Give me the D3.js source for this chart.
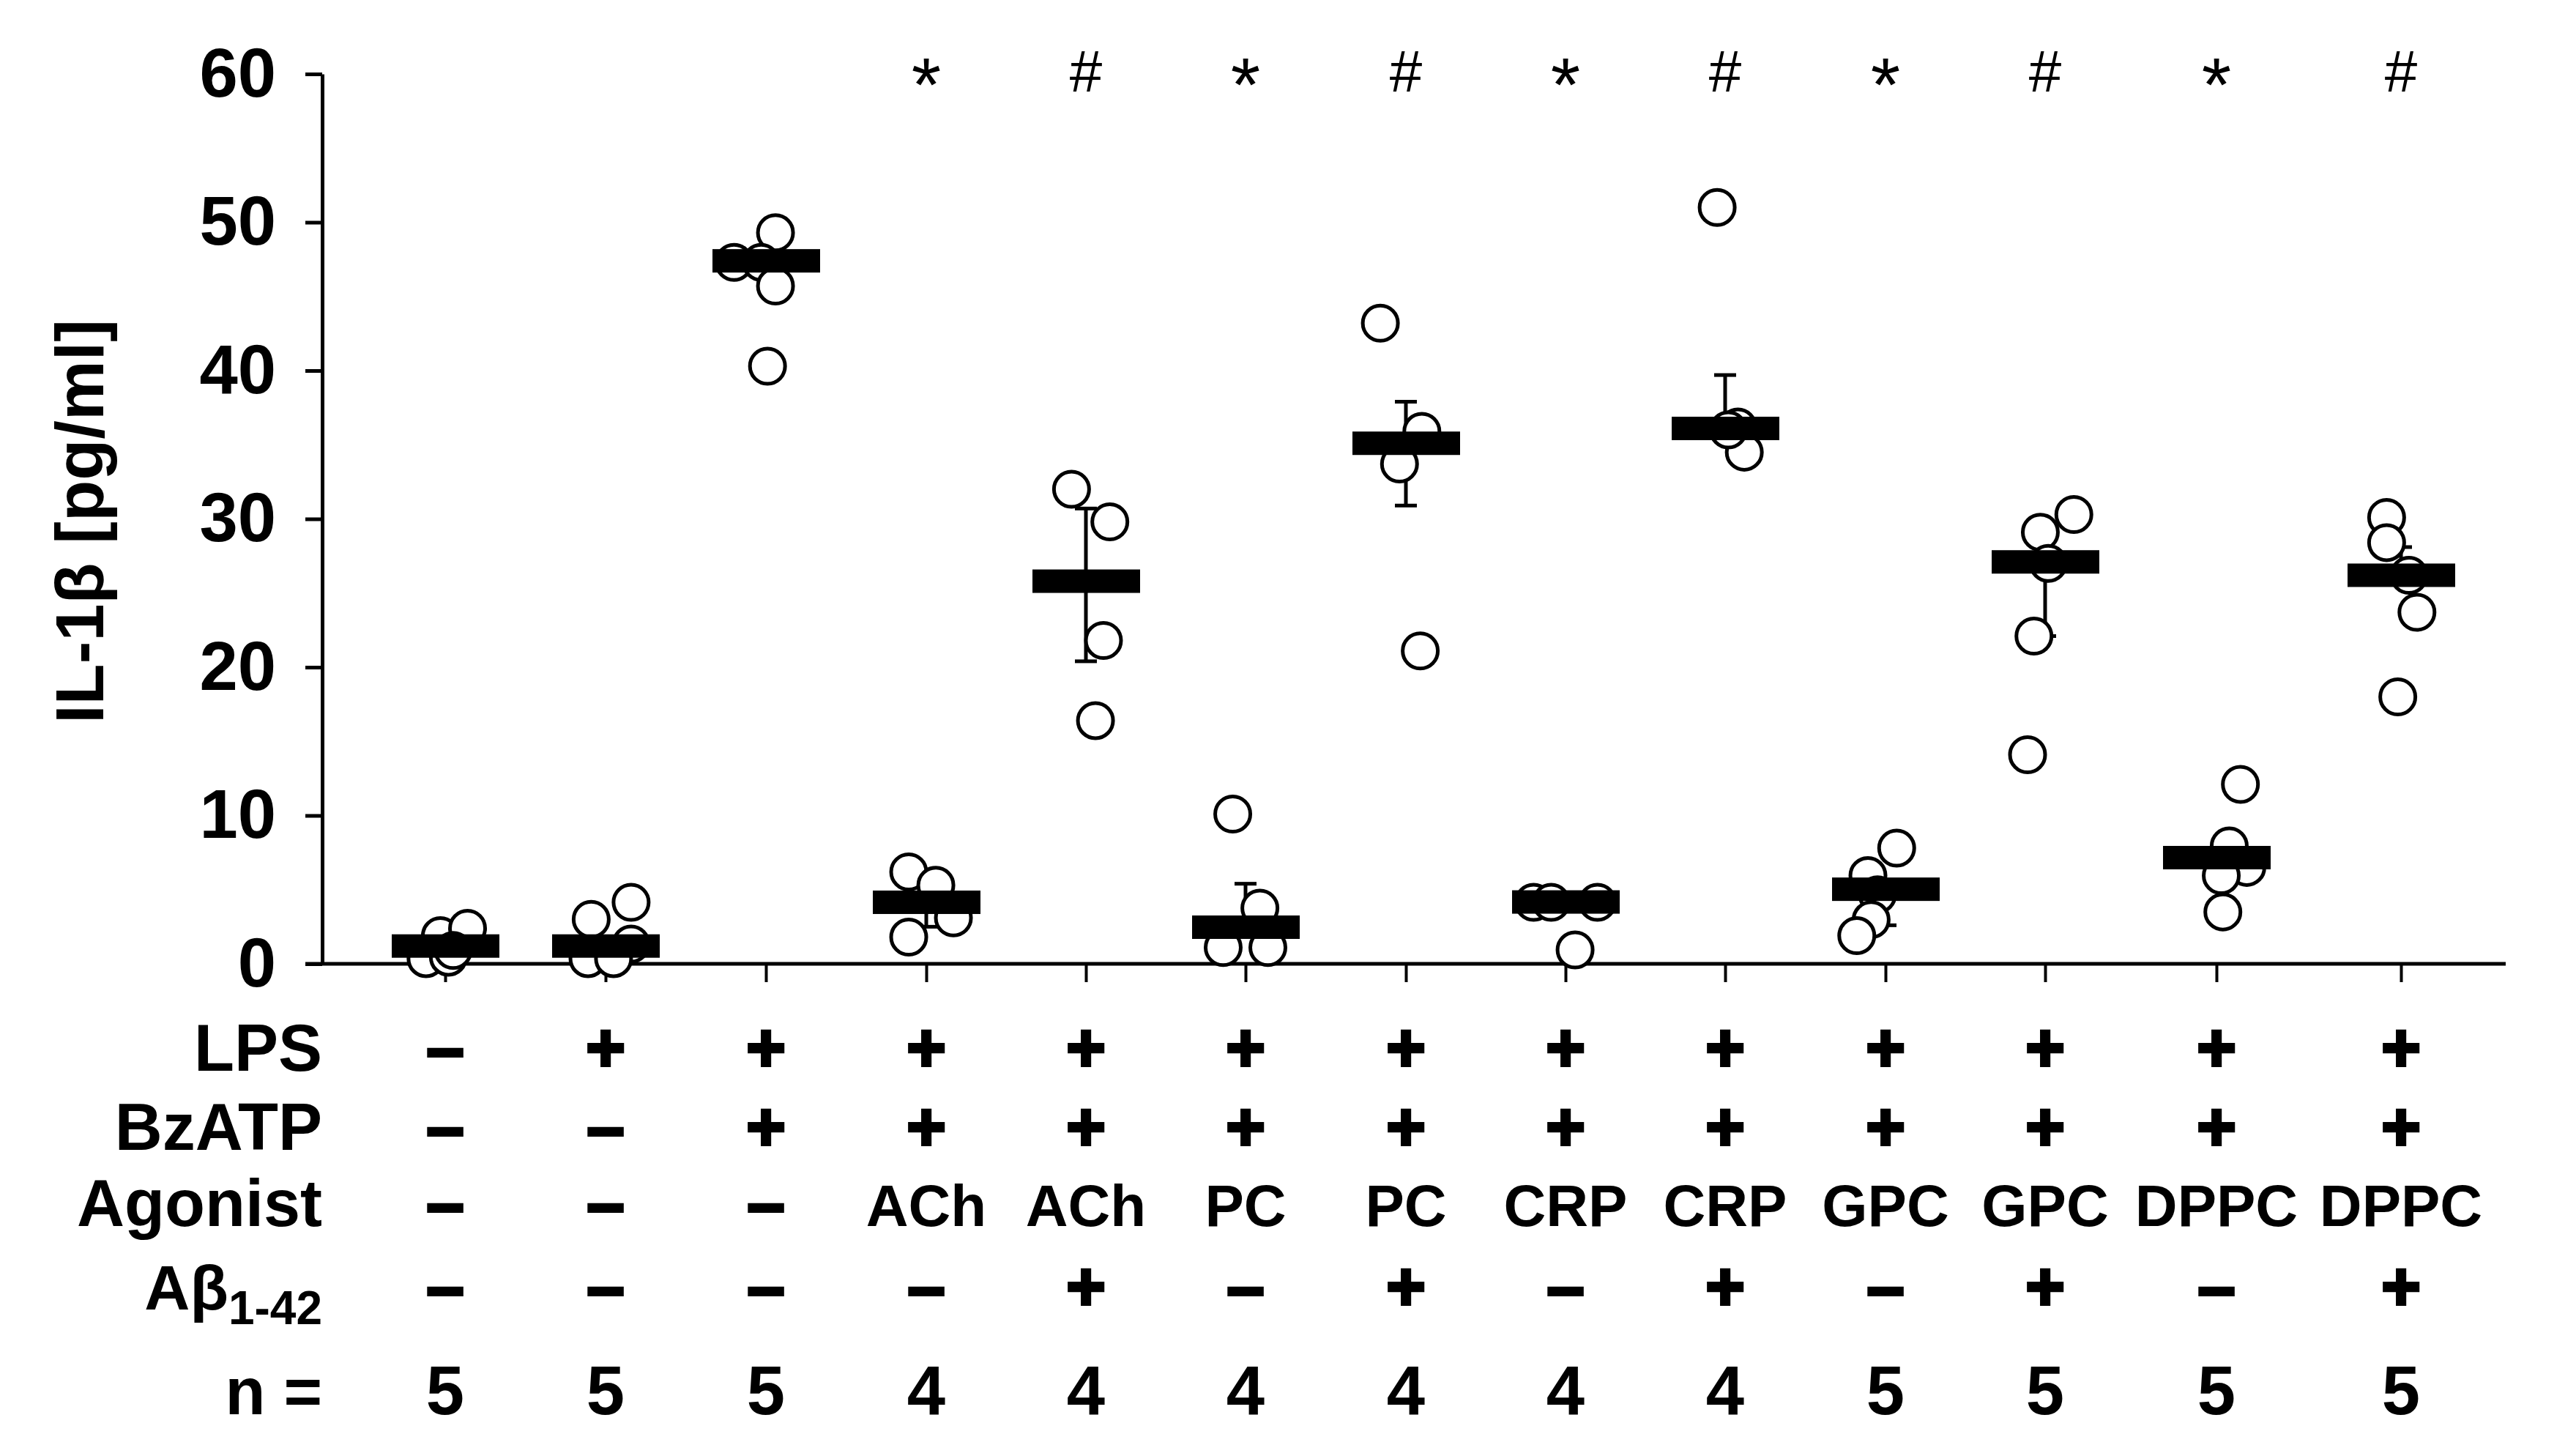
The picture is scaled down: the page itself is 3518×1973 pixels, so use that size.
<!DOCTYPE html>
<html>
<head>
  <meta charset="UTF-8">
  <script src="https://d3js.org/d3.v7.min.js"></script>
  <style>
    body { margin: 0; background: #fff; }
    svg { display: block; font-family: "Liberation Sans", Arial, sans-serif; }
  </style>
</head>
<body>
  <script>
    // treatment table under the plot
    var lps     = ["–", "+", "+", "+", "+", "+", "+", "+", "+", "+", "+", "+", "+"];
    var bzatp   = ["–", "–", "+", "+", "+", "+", "+", "+", "+", "+", "+", "+", "+"];
    var agonist = ["–", "–", "–", "ACh", "ACh", "PC", "PC", "CRP", "CRP", "GPC", "GPC", "DPPC", "DPPC"];
    var abeta   = ["–", "–", "–", "–", "+", "–", "+", "–", "+", "–", "+", "–", "+"];
    var nCounts = [5, 5, 5, 4, 4, 4, 4, 4, 4, 5, 5, 5, 5];
    var marks   = ["", "", "", "*", "#", "*", "#", "*", "#", "*", "#", "*", "#"];

    // IL-1beta (pg/ml)
    var means = [1.2, 1.2, 47.4, 4.15, 25.8, 2.47, 35.1, 4.17, 36.1, 5.03, 27.1, 7.16, 26.2];
    var errHi = [null, null, null, null, 30.7, 5.4, 37.9, null, 39.7, null, null, null, 28.1];
    var errLo = [null, null, null, 2.5, 20.4, null, 30.9, null, null, 2.6, 22.1, null, null];

    var values = [
      [1.9, 2.4, 0.35, 0.45, 0.9],
      [3.0, 4.15, 1.33, 0.35, 0.35],
      [49.3, 47.3, 47.3, 45.7, 40.3],
      [6.2, 5.3, 3.1, 1.8],
      [32.0, 29.8, 21.8, 16.4],
      [10.1, 3.75, 1.1, 1.1],
      [43.2, 35.9, 33.7, 21.1],
      [4.15, 4.15, 4.15, 0.94],
      [51.0, 36.2, 34.5, 36.0],
      [7.8, 5.95, 4.65, 2.97, 1.9],
      [30.3, 29.1, 27.0, 22.1, 14.1],
      [12.1, 7.95, 6.5, 5.95, 3.5],
      [30.1, 28.4, 26.2, 23.7, 18.0]
    ];
    // sideways dodge of each dot, as a fraction of the group spacing
    var jitter = [
      [-0.03, 0.14, -0.12, 0.02, 0.05],
      [-0.09, 0.16, 0.16, -0.11, 0.05],
      [0.06, -0.20, -0.03, 0.06, 0.01],
      [-0.11, 0.06, 0.17, -0.11],
      [-0.09, 0.15, 0.11, 0.06],
      [-0.08, 0.09, -0.14, 0.14],
      [-0.16, 0.10, -0.04, 0.09],
      [-0.20, -0.09, 0.20, 0.06],
      [-0.05, 0.08, 0.12, 0.02],
      [0.07, -0.11, -0.05, -0.09, -0.18],
      [0.18, -0.03, 0.02, -0.07, -0.11],
      [0.15, 0.08, 0.19, 0.03, 0.04],
      [-0.09, -0.09, 0.05, 0.10, -0.02]
    ];
    var yTicks = [0, 10, 20, 30, 40, 50, 60];

    var width = 3518, height = 1973;
    var svg = d3.select("body").append("svg")
      .attr("width", width)
      .attr("height", height);

    var groups = d3.range(means.length);
    // the last two columns sit a little wider apart (long DPPC labels)
    var x = d3.scaleOrdinal()
      .domain(groups)
      .range([608, 827, 1046, 1265, 1483, 1701, 1920, 2138, 2356, 2575, 2793, 3027, 3279]);
    var dodge = d3.scaleLinear().domain([-1, 1]).range([-218, 218]);
    var y = d3.scaleLinear().domain([0, 60]).range([1316, 101]);

    var axisLeftX = 440, axisRightX = 3422;

    // y axis
    var yAxis = svg.append("g")
      .attr("transform", "translate(" + axisLeftX + ",0)")
      .call(d3.axisLeft(y).tickValues(yTicks).tickSize(23).tickSizeOuter(0).tickPadding(40));
    yAxis.select(".domain").attr("stroke", "#000").attr("stroke-width", 5);
    yAxis.selectAll(".tick line").attr("stroke", "#000").attr("stroke-width", 5);
    yAxis.selectAll(".tick text")
      .attr("fill", "#000")
      .attr("font-family", "Liberation Sans, Arial, sans-serif")
      .attr("font-weight", "bold")
      .attr("font-size", 94);

    // x axis: only ticks from the axis, baseline drawn by hand so it starts at the y axis
    var xAxis = svg.append("g")
      .attr("transform", "translate(0," + y(0) + ")")
      .call(d3.axisBottom(x).tickSize(25).tickSizeOuter(0).tickFormat(""));
    xAxis.select(".domain").remove();
    xAxis.selectAll(".tick line").attr("stroke", "#000").attr("stroke-width", 4);
    svg.append("line")
      .attr("x1", axisLeftX - 23).attr("x2", axisRightX)
      .attr("y1", y(0)).attr("y2", y(0))
      .attr("stroke", "#000").attr("stroke-width", 5);

    // y title
    svg.append("text")
      .attr("transform", "translate(141,712) rotate(-90)")
      .attr("text-anchor", "middle")
      .attr("font-weight", "bold")
      .attr("font-size", 92)
      .text("IL-1β [pg/ml]");

    // error bars (drawn first, dots hide parts of them)
    var errs = svg.append("g").attr("stroke", "#000").attr("stroke-width", 5);
    groups.forEach(function(i) {
      [errHi[i], errLo[i]].forEach(function(v) {
        if (v == null) return;
        errs.append("line")
          .attr("x1", x(i)).attr("x2", x(i))
          .attr("y1", y(means[i])).attr("y2", y(v));
        errs.append("line")
          .attr("x1", x(i) - 15).attr("x2", x(i) + 15)
          .attr("y1", y(v)).attr("y2", y(v));
      });
    });

    // individual values
    var pts = [];
    groups.forEach(function(i) {
      values[i].forEach(function(v, j) {
        pts.push({ g: i, v: v, dx: jitter[i][j] });
      });
    });
    svg.append("g").selectAll("circle")
      .data(pts)
      .enter()
      .append("circle")
      .attr("cx", function(d) { return x(d.g) + dodge(d.dx); })
      .attr("cy", function(d) { return y(d.v); })
      .attr("r", 24)
      .attr("fill", "#fff")
      .attr("stroke", "#000")
      .attr("stroke-width", 5);

    // mean bars on top
    svg.append("g").selectAll("rect")
      .data(groups)
      .enter()
      .append("rect")
      .attr("x", function(i) { return x(i) - 73; })
      .attr("y", function(i) { return y(means[i]) - 16; })
      .attr("width", 147)
      .attr("height", 32)
      .attr("fill", "#000");

    // significance marks
    svg.append("g").selectAll("text")
      .data(groups.filter(function(i) { return marks[i] !== ""; }))
      .enter()
      .append("text")
      .attr("x", function(i) { return x(i); })
      .attr("y", function(i) { return marks[i] === "*" ? 152 : 125; })
      .attr("text-anchor", "middle")
      .attr("font-size", function(i) { return marks[i] === "*" ? 104 : 80; })
      .text(function(i) { return marks[i]; });

    // treatment table
    var rows = [
      { label: "LPS", vals: lps, base: 1462, size: 90 },
      { label: "BzATP", vals: bzatp, base: 1570, size: 90 },
      { label: "Agonist", vals: agonist, base: 1674, size: 80 },
      { label: "Aβ", sub: "1-42", vals: abeta, base: 1788, size: 90 },
      { label: "n =", vals: nCounts, base: 1931, size: 94 }
    ];
    rows.forEach(function(r) {
      var lab = svg.append("text")
        .attr("x", axisLeftX)
        .attr("y", r.base)
        .attr("text-anchor", "end")
        .attr("font-weight", "bold")
        .attr("font-size", r.label === "Aβ" ? 86 : 90);
      lab.append("tspan").text(r.label);
      if (r.sub) {
        lab.append("tspan")
          .attr("font-size", 64)
          .attr("dy", 20)
          .text(r.sub);
      }
      svg.append("g").selectAll("text")
        .data(groups)
        .enter()
        .append("text")
        .attr("x", function(i) { return x(i); })
        .attr("y", r.base)
        .attr("text-anchor", "middle")
        .attr("font-weight", "bold")
        .attr("font-size", function(i) {
          var s = String(r.vals[i]);
          return (s === "+" || s === "–") ? 92 : r.size;
        })
        .attr("stroke", function(i) {
          var s = String(r.vals[i]);
          return (s === "+" || s === "–") ? "#000" : "none";
        })
        .attr("stroke-width", 4)
        .text(function(i) { return r.vals[i]; });
    });
  </script>
</body>
</html>
